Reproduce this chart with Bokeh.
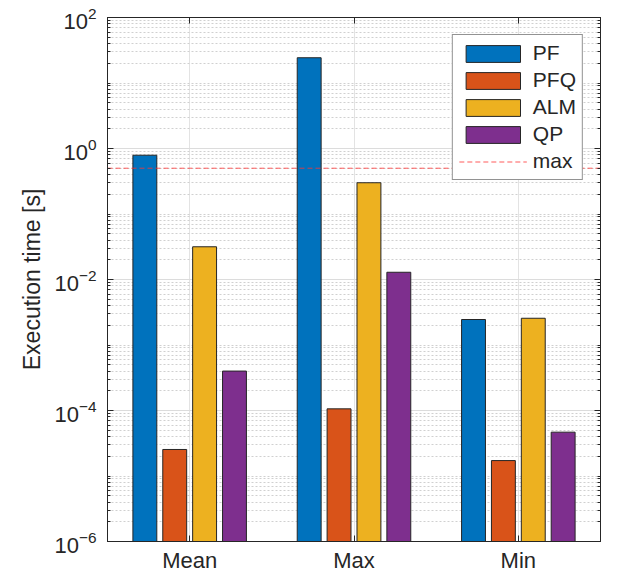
from bokeh.plotting import figure
from bokeh.models import (FixedTicker, LogAxis, LinearAxis, Legend, LegendItem,
                          Range1d, ColumnDataSource)
from bokeh.embed import file_html
from bokeh.resources import INLINE

categories = ["Mean", "Max", "Min"]
series_names = ["PF", "PFQ", "ALM", "QP"]
pf = [0.79, 24.3, 2.45e-3]
pfq = [2.54e-5, 1.06e-4, 1.72e-5]
alm = [0.0316, 0.30, 2.56e-3]
qp = [4.0e-4, 0.0129, 4.67e-5]
max_value = 0.5
y_major_ticks = [1e-6, 1e-4, 1e-2, 1e0, 1e2]
y_minor_ticks = [m * 10.0 ** e for e in range(-6, 2) for m in range(1, 10)] + [1e2]

colors = ["#0072BD", "#D95319", "#EDB120", "#7E2F8E"]
text_color = "#262626"
font = "Liberation Sans"

p = figure(frame_width=493, frame_height=524, y_axis_type="log",
           x_range=Range1d(0.5, 3.5), y_range=Range1d(1e-6, 1e2),
           output_backend="svg", toolbar_location=None,
           min_border_left=107, min_border_right=8,
           min_border_top=17, min_border_bottom=20)

group_w = min(0.8, 4 / (4 + 1.5))
bar_w = group_w / 4 * 0.8
offsets = [(i - 1.5) * group_w / 4 for i in range(4)]

renderers = []
for vals, off, col in zip([pf, pfq, alm, qp], offsets, colors):
    src = ColumnDataSource(dict(x=[i + 1 + off for i in range(len(categories))],
                                top=vals, bottom=[1e-6] * len(vals)))
    r = p.vbar(x="x", top="top", bottom="bottom", width=bar_w, source=src,
               fill_color=col, line_color="#262626", line_width=1)
    renderers.append(r)

max_r = p.line(x=[0.5, 3.5], y=[max_value, max_value], line_color="#ff3333",
               line_alpha=0.8, line_dash="5 3", line_width=1)

# axes styling
xt = FixedTicker(ticks=[1, 2, 3])
p.xaxis.ticker = xt
p.xaxis.major_label_overrides = {1: categories[0], 2: categories[1], 3: categories[2]}
yt = FixedTicker(ticks=y_major_ticks, minor_ticks=y_minor_ticks)
p.yaxis.ticker = yt

for ax in [p.xaxis[0], p.yaxis[0]]:
    ax.axis_line_color = text_color
    ax.major_tick_line_color = text_color
    ax.minor_tick_line_color = text_color
    ax.major_tick_in = 6
    ax.major_tick_out = 0
    ax.minor_tick_in = 3
    ax.minor_tick_out = 0
    ax.major_label_text_font = font
    ax.major_label_text_font_size = "22px"
    ax.major_label_text_color = text_color

p.xaxis.major_label_standoff = 6
p.yaxis.major_label_standoff = 11
p.yaxis.axis_label = "Execution time [s]"
p.yaxis.axis_label_text_font = font
p.yaxis.axis_label_text_font_size = "23px"
p.yaxis.axis_label_text_font_style = "normal"
p.yaxis.axis_label_text_color = text_color
p.yaxis.axis_label_standoff = 6

top_ax = LinearAxis(ticker=xt, major_label_text_font_size="1px",
                    major_label_text_color=None,
                    major_tick_in=6, major_tick_out=0, major_label_standoff=0,
                    axis_line_color=text_color, major_tick_line_color=text_color,
                    minor_tick_line_color=None)
p.add_layout(top_ax, "above")
right_ax = LogAxis(ticker=yt, major_label_text_font_size="1px",
                   major_label_text_color=None,
                   major_tick_in=6, major_tick_out=0, minor_tick_in=3, minor_tick_out=0,
                   major_label_standoff=0,
                   axis_line_color=text_color, major_tick_line_color=text_color,
                   minor_tick_line_color=text_color)
p.add_layout(right_ax, "right")

p.outline_line_color = text_color

# grids
p.xgrid.ticker = xt
p.xgrid.grid_line_color = "#e3e3e3"
p.ygrid.ticker = yt
p.ygrid.grid_line_color = "#dcdcdc"
p.ygrid.minor_grid_line_color = "#d0d0d0"
p.ygrid.minor_grid_line_dash = "2 2"

legend = Legend(items=[LegendItem(label=n, renderers=[r]) for n, r in zip(series_names, renderers)]
               + [LegendItem(label="max", renderers=[max_r])],
               location="top_right", margin=17, padding=6, spacing=3,
               glyph_width=68, glyph_height=21, label_height=21, label_standoff=6,
               label_text_font=font, label_text_font_size="21px",
               label_text_color=text_color, border_line_color=text_color,
               border_line_width=1, background_fill_alpha=1)
p.add_layout(legend)

open("out.html", "w").write(file_html(p, INLINE))
